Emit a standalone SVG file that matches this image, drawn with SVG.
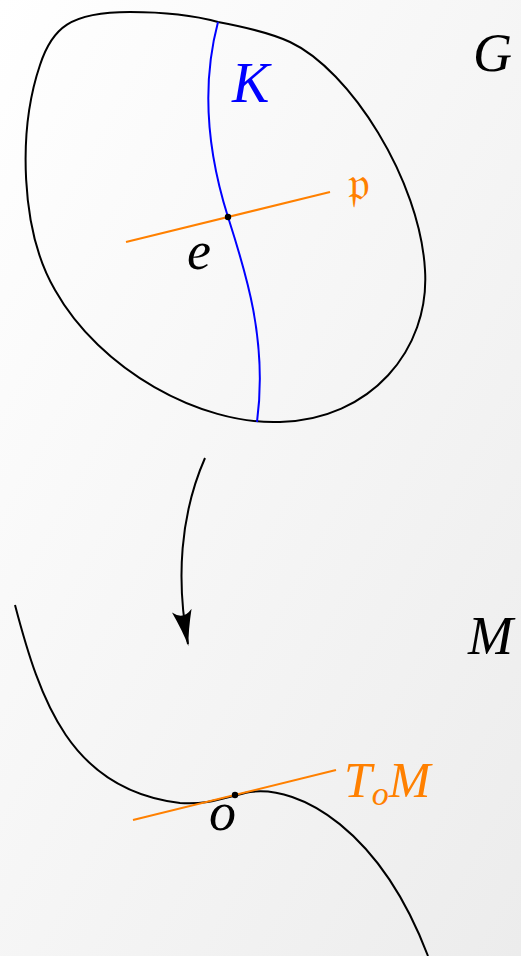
<svg xmlns="http://www.w3.org/2000/svg" width="521" height="956" viewBox="0 0 521 956">
<defs>
<linearGradient id="bg" x1="0" y1="0" x2="1" y2="1">
<stop offset="0" stop-color="#ffffff"/>
<stop offset="1" stop-color="#ececec"/>
</linearGradient>
<marker id="ah" viewBox="0 0 36 20" refX="34" refY="10" markerWidth="36" markerHeight="20" markerUnits="userSpaceOnUse" orient="auto">
<path d="M0,0 Q20,7 36,10 Q20,13 0,20 Q10,10 0,0 Z" fill="#000"/>
</marker>
<style>
.blk{fill:none;stroke:#000;stroke-width:2}
.blu{fill:none;stroke:#0000ff;stroke-width:2}
.org{fill:none;stroke:#ff8000;stroke-width:2}
.m{font-family:"Liberation Serif","DejaVu Serif",serif;font-style:italic}
</style>
</defs>
<rect width="521" height="956" fill="url(#bg)"/>
<g id="group-G">
<path class="blk" d="M218 22 C250 28 275 35 290 42 C350 70 420 180 425 270 C430 350 370 420 280 422 C200 425 100 370 55 290 C20 230 18 130 40 65 C52 28 70 12 130 12 C170 12 200 17 218 22 Z"/>
<path class="blu" d="M218 22 C200 90 210 160 228 217 C245 270 268 340 257 422"/>
<line class="org" x1="126" y1="242" x2="330" y2="192"/>
<circle cx="228" cy="217" r="3.2" fill="#000"/>
<text class="m" x="473" y="71" font-size="54" fill="#000">G</text>
<text class="m" x="232" y="102" font-size="56" fill="#0000ff">K</text>
<text class="m" x="187" y="269" font-size="54" fill="#000">e</text>
<text x="348" y="200" font-size="48" fill="#ff8000" font-family="DejaVu Serif,serif">𝔭</text>
</g>
<g id="connectors">
<path class="blk" stroke-width="2.4" d="M205 458 C180 515 176 580 188 644" marker-end="url(#ah)"/>
</g>
<g id="manifold-M">
<path class="blk" stroke-width="2.4" d="M15 605 C40 700 70 790 180 803 C210 805 225 797 250 792 C300 785 380 830 428 956"/>
<line class="org" x1="133" y1="820" x2="336" y2="770"/>
<circle cx="235" cy="795" r="3.2" fill="#000"/>
<text class="m" x="468" y="654" font-size="54" fill="#000">M</text>
<text class="m" x="209" y="830" font-size="54" fill="#000">o</text>
<text class="m" x="344" y="797" font-size="50" fill="#ff8000">T<tspan font-size="34" dy="8">o</tspan><tspan dy="-8">M</tspan></text>
</g>
</svg>
